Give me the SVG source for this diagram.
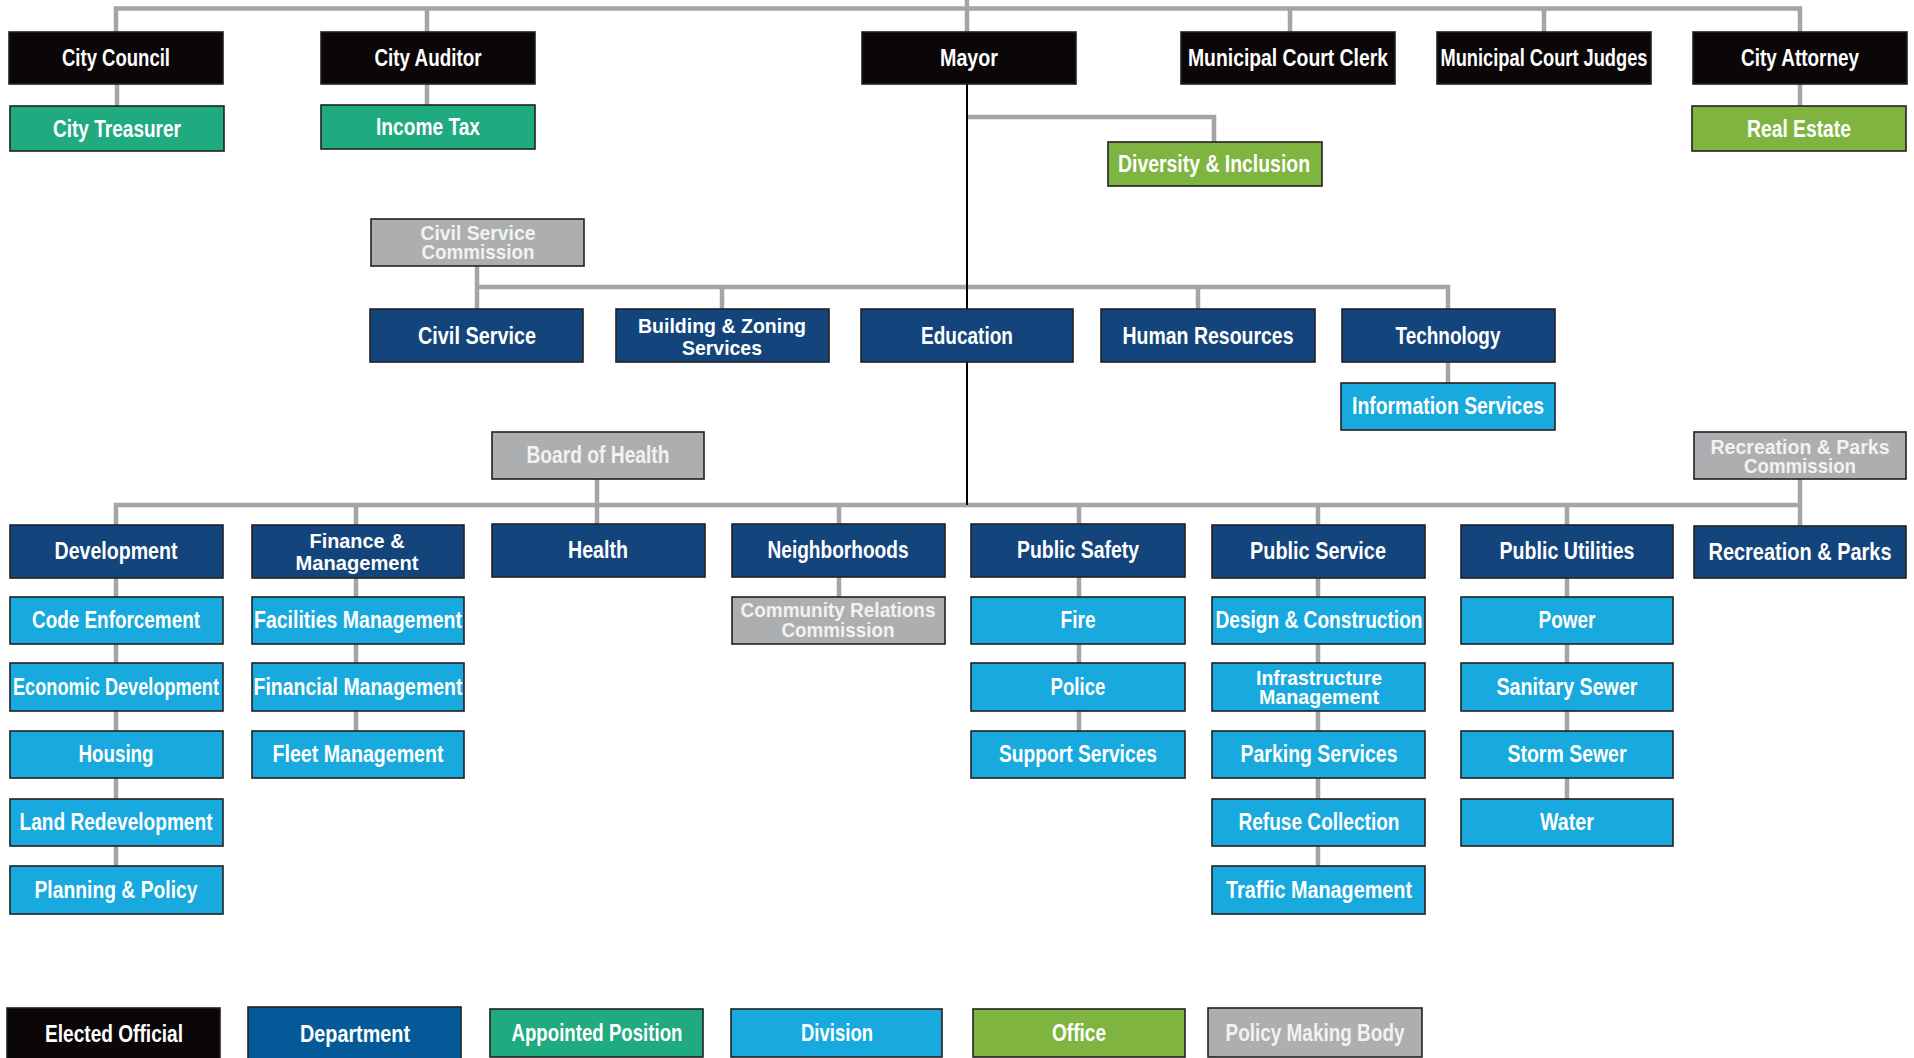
<svg xmlns="http://www.w3.org/2000/svg" width="1914" height="1058" viewBox="0 0 1914 1058">
  <style>
    .bg { fill: #ffffff; }
    .box { stroke: #222022; stroke-width: 1.6; }
    .elected { fill: #0b0708; }
    .dept { fill: #13457c; }
    .dept-key { fill: #045a99; }
    .appointed { fill: #1faa7f; }
    .division { fill: #18a9de; }
    .office { fill: #7fb441; }
    .policy { fill: #adaeb0; }
    .t { font-family: "Liberation Sans Narrow", "Liberation Sans", Arial, sans-serif; font-weight: bold; font-size: 24px; fill: #ffffff; text-anchor: middle; }
    .t2 { font-size: 21px; }
    .tp { fill: #f2f2f2; }
    .link { fill: none; stroke: #a5a5a5; stroke-width: 4.5; stroke-linejoin: miter; }
    .spine { fill: none; stroke: #000000; stroke-width: 2; }
  </style>

  <rect class="bg" x="0" y="0" width="1914" height="1058"/>

  <!-- connectors -->
  <g id="connectors">
    <path class="link" d="M116,32 V8.5 H1800 V32"/>
    <path class="link" d="M427,8.5 V32 M967,0 V32 M1290,8.5 V32 M1544,8.5 V32"/>
    <path class="link" d="M117,84 V106 M427,84 V105 M1800,84 V106"/>
    <path class="link" d="M967,117 H1214 V142"/>
    <path class="link" d="M477,266 V309 M477,287 H1448 V309 M722,287 V309 M1198,287 V309"/>
    <path class="link" d="M1448,362 V383"/>
    <path class="link" d="M116,525 V505 H1800 V526 M356,505 V525 M597,479 V524 M839,505 V524 M1079,505 V524 M1318,505 V525 M1567,505 V525 M1800,479 V505"/>
    <path class="link" d="M116,578 V866 M356,578 V731 M839,577 V597 M1079,577 V731 M1318,578 V866 M1567,578 V799"/>
    <path class="spine" d="M967,84 V505"/>
  </g>

  <!-- elected officials -->
  <g id="city-council"><rect class="box elected" x="9" y="32" width="214" height="52"/><text class="t" x="116" y="66" textLength="108" lengthAdjust="spacingAndGlyphs">City Council</text></g>
  <g id="city-auditor"><rect class="box elected" x="321" y="32" width="214" height="52"/><text class="t" x="428" y="66" textLength="107" lengthAdjust="spacingAndGlyphs">City Auditor</text></g>
  <g id="mayor"><rect class="box elected" x="862" y="32" width="214" height="52"/><text class="t" x="969" y="66" textLength="58" lengthAdjust="spacingAndGlyphs">Mayor</text></g>
  <g id="municipal-court-clerk"><rect class="box elected" x="1181" y="32" width="214" height="52"/><text class="t" x="1288" y="66" textLength="200" lengthAdjust="spacingAndGlyphs">Municipal Court Clerk</text></g>
  <g id="municipal-court-judges"><rect class="box elected" x="1437" y="32" width="214" height="52"/><text class="t" x="1544" y="66" textLength="207" lengthAdjust="spacingAndGlyphs">Municipal Court Judges</text></g>
  <g id="city-attorney"><rect class="box elected" x="1693" y="32" width="214" height="52"/><text class="t" x="1800" y="66" textLength="118" lengthAdjust="spacingAndGlyphs">City Attorney</text></g>

  <!-- appointed positions and offices -->
  <g id="city-treasurer"><rect class="box appointed" x="10" y="106" width="214" height="45"/><text class="t" x="117" y="137" textLength="128" lengthAdjust="spacingAndGlyphs">City Treasurer</text></g>
  <g id="income-tax"><rect class="box appointed" x="321" y="105" width="214" height="44"/><text class="t" x="428" y="135" textLength="104" lengthAdjust="spacingAndGlyphs">Income Tax</text></g>
  <g id="diversity-inclusion"><rect class="box office" x="1108" y="142" width="214" height="44"/><text class="t" x="1214" y="172" textLength="192" lengthAdjust="spacingAndGlyphs">Diversity &amp; Inclusion</text></g>
  <g id="real-estate"><rect class="box office" x="1692" y="106" width="214" height="45"/><text class="t" x="1799" y="137" textLength="104" lengthAdjust="spacingAndGlyphs">Real Estate</text></g>

  <!-- policy making bodies -->
  <g id="civil-service-commission"><rect class="box policy" x="371" y="219" width="213" height="47"/><text class="t t2 tp" x="478" y="240" textLength="115" lengthAdjust="spacingAndGlyphs">Civil Service</text><text class="t t2 tp" x="478" y="259" textLength="113" lengthAdjust="spacingAndGlyphs">Commission</text></g>
  <g id="board-of-health"><rect class="box policy" x="492" y="432" width="212" height="47"/><text class="t tp" x="598" y="463" textLength="143" lengthAdjust="spacingAndGlyphs">Board of Health</text></g>
  <g id="recreation-parks-commission"><rect class="box policy" x="1694" y="432" width="212" height="47"/><text class="t t2 tp" x="1800" y="454" textLength="179" lengthAdjust="spacingAndGlyphs">Recreation &amp; Parks</text><text class="t t2 tp" x="1800" y="473" textLength="112" lengthAdjust="spacingAndGlyphs">Commission</text></g>
  <g id="community-relations-commission"><rect class="box policy" x="732" y="597" width="213" height="47"/><text class="t t2 tp" x="838" y="617" textLength="195" lengthAdjust="spacingAndGlyphs">Community Relations</text><text class="t t2 tp" x="838" y="637" textLength="113" lengthAdjust="spacingAndGlyphs">Commission</text></g>

  <!-- departments, first tier -->
  <g id="civil-service"><rect class="box dept" x="370" y="309" width="213" height="53"/><text class="t" x="477" y="344" textLength="118" lengthAdjust="spacingAndGlyphs">Civil Service</text></g>
  <g id="building-zoning"><rect class="box dept" x="616" y="309" width="213" height="53"/><text class="t t2" x="722" y="333" textLength="168" lengthAdjust="spacingAndGlyphs">Building &amp; Zoning</text><text class="t t2" x="722" y="355" textLength="80" lengthAdjust="spacingAndGlyphs">Services</text></g>
  <g id="education"><rect class="box dept" x="861" y="309" width="212" height="53"/><text class="t" x="967" y="344" textLength="92" lengthAdjust="spacingAndGlyphs">Education</text></g>
  <g id="human-resources"><rect class="box dept" x="1101" y="309" width="214" height="53"/><text class="t" x="1208" y="344" textLength="171" lengthAdjust="spacingAndGlyphs">Human Resources</text></g>
  <g id="technology"><rect class="box dept" x="1342" y="309" width="213" height="53"/><text class="t" x="1448" y="344" textLength="105" lengthAdjust="spacingAndGlyphs">Technology</text></g>
  <g id="information-services"><rect class="box division" x="1341" y="383" width="214" height="47"/><text class="t" x="1448" y="414" textLength="192" lengthAdjust="spacingAndGlyphs">Information Services</text></g>

  <!-- departments, second tier -->
  <g id="development"><rect class="box dept" x="10" y="525" width="213" height="53"/><text class="t" x="116" y="559" textLength="123" lengthAdjust="spacingAndGlyphs">Development</text></g>
  <g id="finance-management"><rect class="box dept" x="252" y="525" width="212" height="53"/><text class="t t2" x="357" y="548" textLength="95" lengthAdjust="spacingAndGlyphs">Finance &amp;</text><text class="t t2" x="357" y="570" textLength="123" lengthAdjust="spacingAndGlyphs">Management</text></g>
  <g id="health"><rect class="box dept" x="492" y="524" width="213" height="53"/><text class="t" x="598" y="558" textLength="60" lengthAdjust="spacingAndGlyphs">Health</text></g>
  <g id="neighborhoods"><rect class="box dept" x="732" y="524" width="213" height="53"/><text class="t" x="838" y="558" textLength="141" lengthAdjust="spacingAndGlyphs">Neighborhoods</text></g>
  <g id="public-safety"><rect class="box dept" x="971" y="524" width="214" height="53"/><text class="t" x="1078" y="558" textLength="122" lengthAdjust="spacingAndGlyphs">Public Safety</text></g>
  <g id="public-service"><rect class="box dept" x="1212" y="525" width="213" height="53"/><text class="t" x="1318" y="559" textLength="136" lengthAdjust="spacingAndGlyphs">Public Service</text></g>
  <g id="public-utilities"><rect class="box dept" x="1461" y="525" width="212" height="53"/><text class="t" x="1567" y="559" textLength="135" lengthAdjust="spacingAndGlyphs">Public Utilities</text></g>
  <g id="recreation-parks"><rect class="box dept" x="1694" y="526" width="212" height="52"/><text class="t" x="1800" y="560" textLength="183" lengthAdjust="spacingAndGlyphs">Recreation &amp; Parks</text></g>

  <!-- divisions: Development -->
  <g id="code-enforcement"><rect class="box division" x="10" y="597" width="213" height="47"/><text class="t" x="116" y="628" textLength="168" lengthAdjust="spacingAndGlyphs">Code Enforcement</text></g>
  <g id="economic-development"><rect class="box division" x="10" y="663" width="213" height="48"/><text class="t" x="116" y="695" textLength="206" lengthAdjust="spacingAndGlyphs">Economic Development</text></g>
  <g id="housing"><rect class="box division" x="10" y="731" width="213" height="47"/><text class="t" x="116" y="762" textLength="75" lengthAdjust="spacingAndGlyphs">Housing</text></g>
  <g id="land-redevelopment"><rect class="box division" x="10" y="799" width="213" height="47"/><text class="t" x="116" y="830" textLength="193" lengthAdjust="spacingAndGlyphs">Land Redevelopment</text></g>
  <g id="planning-policy"><rect class="box division" x="10" y="866" width="213" height="48"/><text class="t" x="116" y="898" textLength="163" lengthAdjust="spacingAndGlyphs">Planning &amp; Policy</text></g>

  <!-- divisions: Finance & Management -->
  <g id="facilities-management"><rect class="box division" x="252" y="597" width="212" height="47"/><text class="t" x="358" y="628" textLength="208" lengthAdjust="spacingAndGlyphs">Facilities Management</text></g>
  <g id="financial-management"><rect class="box division" x="252" y="663" width="212" height="48"/><text class="t" x="358" y="695" textLength="209" lengthAdjust="spacingAndGlyphs">Financial Management</text></g>
  <g id="fleet-management"><rect class="box division" x="252" y="731" width="212" height="47"/><text class="t" x="358" y="762" textLength="171" lengthAdjust="spacingAndGlyphs">Fleet Management</text></g>

  <!-- divisions: Public Safety -->
  <g id="fire"><rect class="box division" x="971" y="597" width="214" height="47"/><text class="t" x="1078" y="628" textLength="35" lengthAdjust="spacingAndGlyphs">Fire</text></g>
  <g id="police"><rect class="box division" x="971" y="663" width="214" height="48"/><text class="t" x="1078" y="695" textLength="55" lengthAdjust="spacingAndGlyphs">Police</text></g>
  <g id="support-services"><rect class="box division" x="971" y="731" width="214" height="47"/><text class="t" x="1078" y="762" textLength="158" lengthAdjust="spacingAndGlyphs">Support Services</text></g>

  <!-- divisions: Public Service -->
  <g id="design-construction"><rect class="box division" x="1212" y="597" width="213" height="47"/><text class="t" x="1319" y="628" textLength="207" lengthAdjust="spacingAndGlyphs">Design &amp; Construction</text></g>
  <g id="infrastructure-management"><rect class="box division" x="1212" y="663" width="213" height="48"/><text class="t t2" x="1319" y="685" textLength="126" lengthAdjust="spacingAndGlyphs">Infrastructure</text><text class="t t2" x="1319" y="704" textLength="120" lengthAdjust="spacingAndGlyphs">Management</text></g>
  <g id="parking-services"><rect class="box division" x="1212" y="731" width="213" height="47"/><text class="t" x="1319" y="762" textLength="157" lengthAdjust="spacingAndGlyphs">Parking Services</text></g>
  <g id="refuse-collection"><rect class="box division" x="1212" y="799" width="213" height="47"/><text class="t" x="1319" y="830" textLength="161" lengthAdjust="spacingAndGlyphs">Refuse Collection</text></g>
  <g id="traffic-management"><rect class="box division" x="1212" y="866" width="213" height="48"/><text class="t" x="1319" y="898" textLength="186" lengthAdjust="spacingAndGlyphs">Traffic Management</text></g>

  <!-- divisions: Public Utilities -->
  <g id="power"><rect class="box division" x="1461" y="597" width="212" height="47"/><text class="t" x="1567" y="628" textLength="57" lengthAdjust="spacingAndGlyphs">Power</text></g>
  <g id="sanitary-sewer"><rect class="box division" x="1461" y="663" width="212" height="48"/><text class="t" x="1567" y="695" textLength="141" lengthAdjust="spacingAndGlyphs">Sanitary Sewer</text></g>
  <g id="storm-sewer"><rect class="box division" x="1461" y="731" width="212" height="47"/><text class="t" x="1567" y="762" textLength="119" lengthAdjust="spacingAndGlyphs">Storm Sewer</text></g>
  <g id="water"><rect class="box division" x="1461" y="799" width="212" height="47"/><text class="t" x="1567" y="830" textLength="54" lengthAdjust="spacingAndGlyphs">Water</text></g>

  <!-- key -->
  <g id="key">
    <g id="key-elected"><rect class="box elected" x="7" y="1008" width="213" height="52"/><text class="t" x="114" y="1042" textLength="138" lengthAdjust="spacingAndGlyphs">Elected Official</text></g>
    <g id="key-department"><rect class="box dept-key" x="248" y="1007" width="213" height="53"/><text class="t" x="355" y="1042" textLength="110" lengthAdjust="spacingAndGlyphs">Department</text></g>
    <g id="key-appointed"><rect class="box appointed" x="490" y="1009" width="213" height="48"/><text class="t" x="597" y="1041" textLength="171" lengthAdjust="spacingAndGlyphs">Appointed Position</text></g>
    <g id="key-division"><rect class="box division" x="731" y="1009" width="211" height="48"/><text class="t" x="837" y="1041" textLength="72" lengthAdjust="spacingAndGlyphs">Division</text></g>
    <g id="key-office"><rect class="box office" x="973" y="1009" width="212" height="48"/><text class="t" x="1079" y="1041" textLength="54" lengthAdjust="spacingAndGlyphs">Office</text></g>
    <g id="key-policy"><rect class="box policy" x="1208" y="1008" width="214" height="49"/><text class="t tp" x="1315" y="1041" textLength="179" lengthAdjust="spacingAndGlyphs">Policy Making Body</text></g>
  </g>
</svg>
